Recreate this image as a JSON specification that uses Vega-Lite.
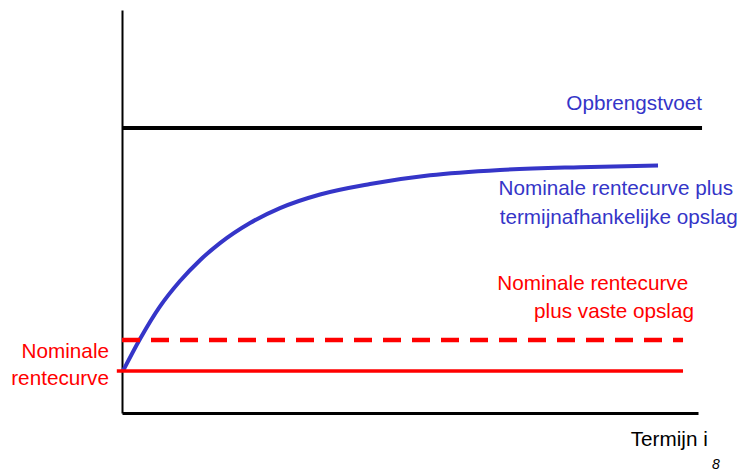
{
  "$schema": "https://vega.github.io/schema/vega-lite/v6.json",
  "width": 576,
  "height": 403,
  "padding": {"left": 122, "top": 10, "right": 41, "bottom": 58},
  "autosize": {"type": "none"},
  "background": "white",
  "config": {"view": {"stroke": null}, "font": "Liberation Sans"},
  "layer": [
    {
      "data": {"values": [
        {"x": 0.017, "y": 1.042}, {"x": 0.3125, "y": 1.836}, {"x": 0.66, "y": 2.645},
        {"x": 1.007, "y": 3.275}, {"x": 1.354, "y": 3.792}, {"x": 1.701, "y": 4.216},
        {"x": 2.222, "y": 4.715}, {"x": 2.743, "y": 5.084}, {"x": 3.438, "y": 5.422},
        {"x": 4.306, "y": 5.682}, {"x": 5.347, "y": 5.898}, {"x": 6.563, "y": 6.03},
        {"x": 7.951, "y": 6.099}, {"x": 9.306, "y": 6.141}
      ]},
      "mark": {"type": "line", "interpolate": "monotone", "color": "#3535c8", "strokeWidth": 4},
      "encoding": {
        "x": {"field": "x", "type": "quantitative", "scale": {"domain": [0, 10], "nice": false, "zero": false},
              "axis": {"title": null, "labels": false, "ticks": false, "grid": false, "domainColor": "black", "domainWidth": 3}},
        "y": {"field": "y", "type": "quantitative", "scale": {"domain": [0, 10], "nice": false, "zero": false},
              "axis": {"title": null, "labels": false, "ticks": false, "grid": false, "domainColor": "black", "domainWidth": 2}}
      }
    },
    {
      "data": {"values": [{"x": 0, "y": 7.07}, {"x": 10.07, "y": 7.07}]},
      "mark": {"type": "line", "color": "black", "strokeWidth": 4},
      "encoding": {"x": {"field": "x", "type": "quantitative"}, "y": {"field": "y", "type": "quantitative"}}
    },
    {
      "data": {"values": [{"x": -0.09, "y": 1.04}, {"x": 9.74, "y": 1.04}]},
      "mark": {"type": "line", "color": "#ff0000", "strokeWidth": 3.5},
      "encoding": {"x": {"field": "x", "type": "quantitative"}, "y": {"field": "y", "type": "quantitative"}}
    },
    {
      "data": {"values": [{"x": 0.0, "y": 1.81}, {"x": 9.74, "y": 1.81}]},
      "mark": {"type": "line", "color": "#ff0000", "strokeWidth": 4.5, "strokeDash": [18, 11]},
      "encoding": {"x": {"field": "x", "type": "quantitative"}, "y": {"field": "y", "type": "quantitative"}}
    },
    {
      "data": {"values": [
        {"x": 10.07, "y": 7.53, "label": "Opbrengstvoet", "c": "#3535c8"},
        {"x": 10.61, "y": 5.42, "label": "Nominale rentecurve plus", "c": "#3535c8"},
        {"x": 10.69, "y": 4.7, "label": "termijnafhankelijke opslag", "c": "#3535c8"},
        {"x": 9.83, "y": 3.05, "label": "Nominale rentecurve", "c": "#ff0000"},
        {"x": 9.93, "y": 2.36, "label": "plus vaste opslag", "c": "#ff0000"},
        {"x": -0.226, "y": 1.36, "label": "Nominale", "c": "#ff0000"},
        {"x": -0.226, "y": 0.69, "label": "rentecurve", "c": "#ff0000"},
        {"x": 10.17, "y": -0.82, "label": "Termijn i", "c": "black"}
      ]},
      "mark": {"type": "text", "align": "right", "baseline": "alphabetic", "fontSize": 20.7},
      "encoding": {
        "x": {"field": "x", "type": "quantitative"},
        "y": {"field": "y", "type": "quantitative"},
        "text": {"field": "label"},
        "color": {"field": "c", "type": "nominal", "scale": null}
      }
    },
    {
      "data": {"values": [{"x": 10.38, "y": -1.39, "label": "8"}]},
      "mark": {"type": "text", "align": "right", "baseline": "alphabetic", "fontSize": 14, "fontStyle": "italic", "color": "black"},
      "encoding": {
        "x": {"field": "x", "type": "quantitative"},
        "y": {"field": "y", "type": "quantitative"},
        "text": {"field": "label"}
      }
    }
  ]
}
